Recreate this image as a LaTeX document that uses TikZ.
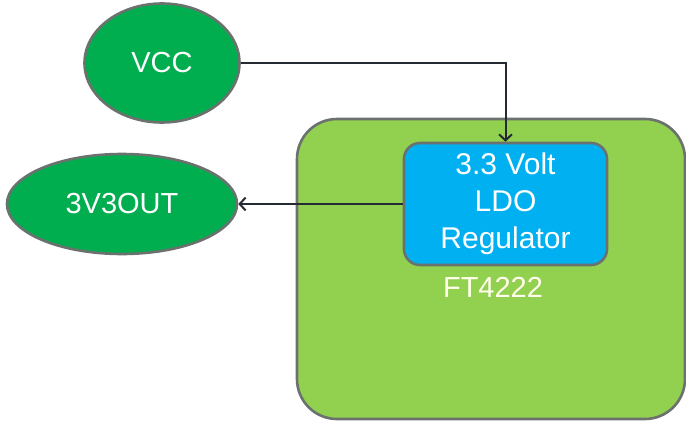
\documentclass[tikz,border=0pt]{standalone}
\usepackage{fontspec}
\setmainfont{Liberation Sans}
\usetikzlibrary{shapes.geometric,arrows.meta}
\definecolor{ovalgreen}{HTML}{00AE4F}
\definecolor{chipgreen}{HTML}{92D050}
\definecolor{ldoblue}{HTML}{00B0F0}
\definecolor{edgegrey}{HTML}{6B726E}
\definecolor{wire}{HTML}{262B33}
\tikzset{
  oval/.style={ellipse, draw=edgegrey, line width=2.6pt, fill=ovalgreen, inner sep=0pt,
    text=white, font=\fontsize{29}{34}\selectfont},
  chip/.style={draw=edgegrey, line width=2.6pt, fill=chipgreen, rounded corners=40pt, inner sep=0pt},
  ldo/.style={draw=edgegrey, line width=2.6pt, fill=ldoblue, rounded corners=16pt, inner sep=0pt,
    text=white, align=center, font=\fontsize{30}{37}\selectfont},
  wireline/.style={draw=wire, line width=2pt, -{Straight Barb[length=6pt,width=13pt,line width=2pt]}},
  chiplabel/.style={text=white!92!yellow, font=\fontsize{29}{34}\selectfont, inner sep=0pt}
}
\begin{document}
\begin{tikzpicture}[x=1pt,y=-1pt]
\useasboundingbox (0,0) rectangle (686,423);
\node[chip, minimum width=388pt, minimum height=300pt] (ft) at (491,269) {};
\node[oval, minimum width=155pt, minimum height=119pt] (vcc) at (162,63) {VCC};
\node[oval, minimum width=230pt, minimum height=100pt] (out) at (122,204) {3V3OUT};
\node[ldo, minimum width=203pt, minimum height=122pt] (ldo) at (505.5,204) {3.3 Volt\\LDO\\Regulator};
\node[chiplabel] (ftl) at (493,287) {FT4222};
\draw[wireline] (vcc.east) -| (ldo.north);
\draw[wireline] (ldo.west) -- (out.east);
\end{tikzpicture}
\end{document}
